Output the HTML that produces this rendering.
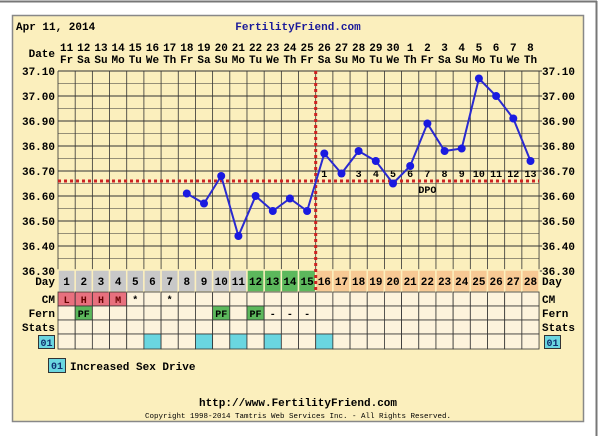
<!DOCTYPE html>
<html><head><meta charset="utf-8"><style>
html,body{margin:0;padding:0;background:#fff;}
svg{display:block;font-family:"Liberation Mono","DejaVu Sans Mono",monospace;font-weight:bold;}
</style></head><body>
<svg id="s" width="600" height="436" xmlns="http://www.w3.org/2000/svg">
<rect x="0" y="0" width="600" height="436" fill="#fff"/>
<line x1="0" y1="1.5" x2="597" y2="1.5" stroke="#777" stroke-width="2"/>
<line x1="596.5" y1="1" x2="596.5" y2="436" stroke="#777" stroke-width="2"/>
<rect x="12.5" y="15.5" width="571" height="406" fill="#fbefbd" stroke="#888" stroke-width="1.5"/>
<text x="16" y="30" font-size="11" fill="#000">Apr 11, 2014</text>
<text x="298" y="30" font-size="11" fill="#1a1a9a" text-anchor="middle">FertilityFriend.com</text>
<text x="55" y="57" font-size="11" text-anchor="end">Date</text>
<g id="g"></g>
<text x="48" y="371" font-size="11"></text>
<rect x="48.5" y="358.5" width="17" height="14" fill="#6ad6e0" stroke="#333"/>
<text x="57" y="369" font-size="10" text-anchor="middle" fill="#103070">01</text>
<text x="70" y="370" font-size="11">Increased Sex Drive</text>
<text x="298" y="406" font-size="11" text-anchor="middle">http://www.FertilityFriend.com</text>
<text x="298" y="418" font-size="7.5" text-anchor="middle" font-weight="normal">Copyright 1998-2014 Tamtris Web Services Inc. - All Rights Reserved.</text>
</svg>
<script>
var g=document.getElementById('g'),ns='http://www.w3.org/2000/svg',h='';
var X0=58,W=17.18,Y0=71,S=250;
function yv(t){return Y0+(37.1-t)*S;}
var dates=[11,12,13,14,15,16,17,18,19,20,21,22,23,24,25,26,27,28,29,30,1,2,3,4,5,6,7,8];
var wd=['Fr','Sa','Su','Mo','Tu','We','Th'];
for(var i=0;i<28;i++){var cx=X0+(i+0.5)*W;
h+='<text x="'+cx+'" y="51" font-size="11" text-anchor="middle">'+dates[i]+'</text>';
h+='<text x="'+cx+'" y="63" font-size="11" text-anchor="middle">'+wd[i%7]+'</text>';}
// grid
for(var k=0;k<=16;k++){var y=Y0+k*12.5;h+='<line x1="'+X0+'" x2="'+(X0+28*W)+'" y1="'+y+'" y2="'+y+'" stroke="#333" stroke-width="'+(k%2?0.6:1)+'"/>';}
for(var i=0;i<=28;i++){var x=X0+i*W;h+='<line x1="'+x+'" x2="'+x+'" y1="'+Y0+'" y2="270" stroke="#333" stroke-width="0.8"/>';}
for(var k=0;k<=8;k++){var y=Y0+k*25,l=(37.1-k*0.1).toFixed(2);
h+='<text x="55" y="'+(y+4)+'" font-size="11" text-anchor="end">'+l+'</text>';
h+='<text x="542" y="'+(y+4)+'" font-size="11">'+l+'</text>';
h+='<line x1="'+(X0+28*W)+'" x2="'+(X0+28*W+3)+'" y1="'+y+'" y2="'+y+'" stroke="#333"/>';}
// rows
var rows=[[270,292],[292,306],[306,320],[320,334],[334,349]];
for(var i=0;i<28;i++){var x=X0+i*W,d=i+1;
var c=d<=11?'#c8c8c8':(d<=15?'#5cb85c':'#f7c994');
h+='<rect x="'+x+'" y="270" width="'+W+'" height="22" fill="'+c+'" stroke="#fbefbd" stroke-width="1.5"/>';
h+='<text x="'+(x+W/2)+'" y="285" font-size="11" text-anchor="middle">'+d+'</text>';
for(var r=1;r<5;r++){var f='#fdf3dc';
if(r==1&&d<=4)f='#e8707e';if(r==2&&(d==2||d==10||d==12))f='#5cb85c';if(r==4&&[6,9,11,13,16].indexOf(d)>=0)f='#6ad6e0';
h+='<rect x="'+x+'" y="'+rows[r][0]+'" width="'+W+'" height="'+(rows[r][1]-rows[r][0])+'" fill="'+f+'" stroke="#333" stroke-width="0.8"/>';}
}
var cm={1:'L',2:'H',3:'H',4:'M',5:'*',7:'*'};
for(var d in cm)h+='<text x="'+(X0+(d-0.5)*W)+'" y="303" font-size="10" text-anchor="middle" fill="'+(d<=4?'#600':'#000')+'">'+cm[d]+'</text>';
var fe={2:'PF',10:'PF',12:'PF',13:'-',14:'-',15:'-'};
for(var d in fe)h+='<text x="'+(X0+(d-0.5)*W)+'" y="317" font-size="10" text-anchor="middle">'+fe[d]+'</text>';
var lbl=[['Day',285],['CM',303],['Fern',317],['Stats',331]];
lbl.forEach(function(a){h+='<text x="55" y="'+a[1]+'" font-size="11" text-anchor="end">'+a[0]+'</text><text x="542" y="'+a[1]+'" font-size="11">'+a[0]+'</text>';});
h+='<rect x="38.5" y="335.5" width="16" height="13" fill="#6ad6e0" stroke="#333"/><text x="46.5" y="346" font-size="10" text-anchor="middle" fill="#103070">01</text>';
h+='<rect x="544.5" y="335.5" width="16" height="13" fill="#6ad6e0" stroke="#333"/><text x="552.5" y="346" font-size="10" text-anchor="middle" fill="#103070">01</text>';
// coverline & ovulation line
h+='<line x1="'+X0+'" x2="'+(X0+28*W)+'" y1="181" y2="181" stroke="#cc2222" stroke-width="3" stroke-dasharray="3,3"/>';
var vx=X0+15*W;h+='<line x1="'+vx+'" x2="'+vx+'" y1="71" y2="292" stroke="#cc2222" stroke-width="3" stroke-dasharray="3,3"/>';
for(var k=1;k<=13;k++)h+='<text x="'+(X0+(15+k-0.5)*W)+'" y="177" font-size="10" text-anchor="middle">'+k+'</text>';
h+='<text x="'+(X0+21.5*W)+'" y="193" font-size="10" text-anchor="middle">DPO</text>';
var T={8:36.61,9:36.57,10:36.68,11:36.44,12:36.60,13:36.54,14:36.59,15:36.54,16:36.77,17:36.69,18:36.78,19:36.74,20:36.65,21:36.72,22:36.89,23:36.78,24:36.79,25:37.07,26:37.00,27:36.91,28:36.74};
var pts=[];for(var d=8;d<=28;d++)pts.push((X0+(d-0.5)*W).toFixed(1)+','+yv(T[d]).toFixed(1));
h+='<polyline points="'+pts.join(' ')+'" fill="none" stroke="#2a2ad0" stroke-width="2"/>';
pts.forEach(function(p){var a=p.split(',');h+='<circle cx="'+a[0]+'" cy="'+a[1]+'" r="4" fill="#1a1ae0"/>';});
g.innerHTML=h;
</script>
</body></html>
